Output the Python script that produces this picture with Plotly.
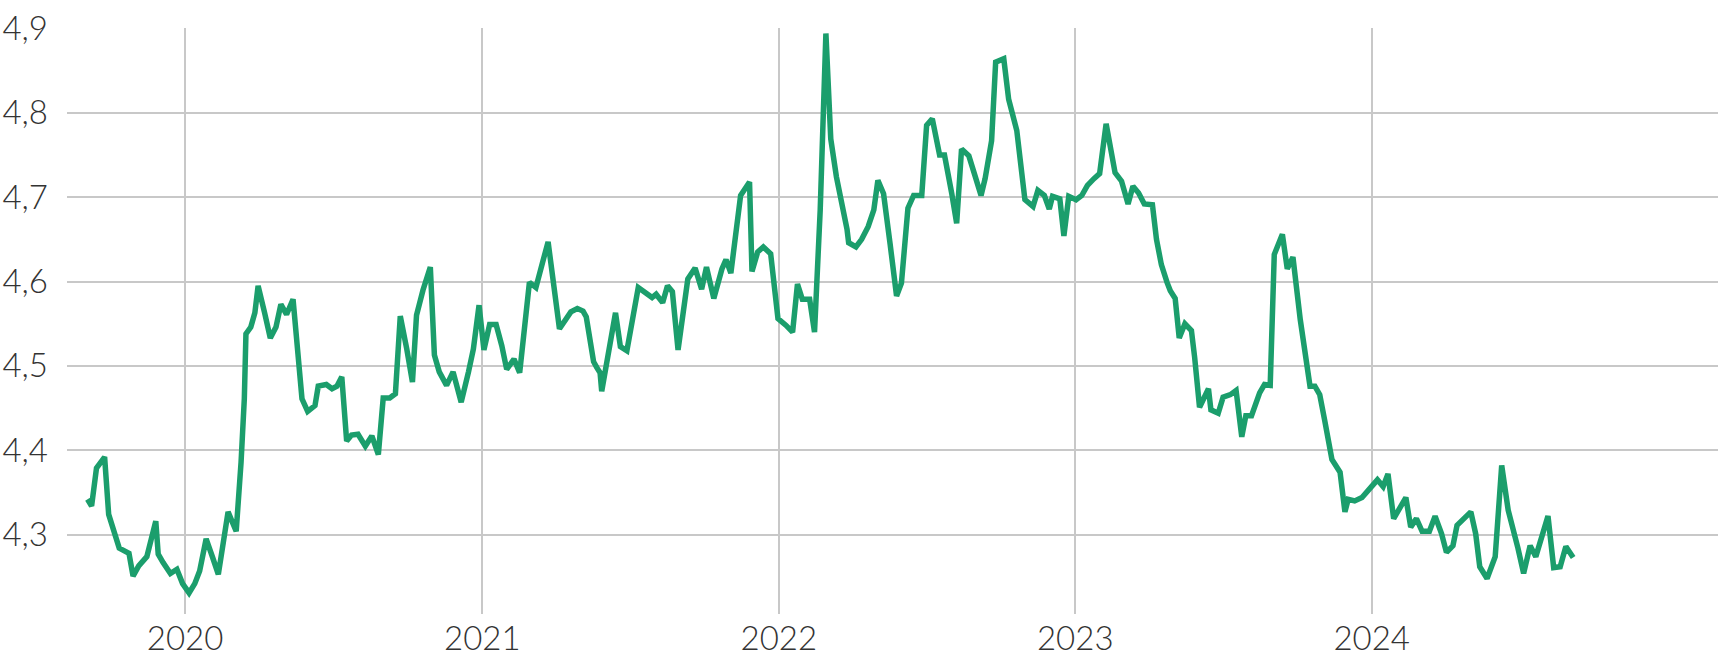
import plotly.graph_objects as go
import pandas as pd

# Observation dates, as days since 2020-01-01
day_offsets = [
    -120, -115, -109, -99, -94, -81, -69, -64, -57, -47, -36, -33, -27, -18, -10, -3,
    5, 12, 18, 26, 34, 41, 53, 63, 69, 73, 75, 81, 86, 90, 98, 105, 112, 118, 125, 133,
    144, 151, 160, 164, 174, 181, 187, 193, 199, 205, 213, 222, 230, 238, 244, 252, 259,
    265, 273, 280, 285, 293, 302, 307, 313, 322, 330, 340, 349, 355, 362, 368, 375, 383,
    390, 396, 405, 412, 424, 432, 440, 447,
    461, 468, 475, 483, 490, 494, 503, 507, 511, 513, 521, 530, 536, 544, 558, 568, 575,
    580, 588, 594, 600, 607, 619, 628, 636, 642, 651, 661, 666, 672, 684, 695, 698, 705,
    712, 721, 730, 740, 748, 754,
    760, 769, 775, 782, 789, 795, 802, 815, 817, 826, 833, 841, 848, 853, 860, 868, 876,
    882, 890, 897, 907, 913, 920, 929, 935, 944, 950, 956, 965, 973, 980, 985, 993, 998,
    1008, 1014, 1018, 1024, 1034, 1044, 1050, 1058,
    1064, 1068, 1077, 1082, 1088, 1097, 1104, 1111, 1119, 1126, 1134, 1145, 1153, 1161,
    1167, 1174, 1181, 1191, 1196, 1202, 1209, 1213, 1219, 1224, 1231, 1239, 1243, 1249,
    1260, 1263, 1272, 1278, 1287, 1294, 1301, 1306, 1313, 1317, 1323, 1329, 1336, 1341,
    1351, 1357, 1364,
    1373, 1385, 1391, 1397, 1403, 1412, 1422, 1428, 1432, 1440, 1449, 1459, 1468, 1475,
    1481, 1488, 1503, 1509, 1516, 1523, 1532, 1539, 1547, 1553, 1561, 1566, 1583, 1589,
    1594, 1603, 1613, 1621, 1629, 1641, 1648, 1656, 1663, 1678, 1685, 1693, 1700, 1709,
]

values = [
    4.342, 4.334, 4.379, 4.392, 4.324, 4.284, 4.278, 4.251, 4.263, 4.274, 4.316, 4.277, 4.267, 4.254, 4.259, 4.242,
    4.231, 4.242, 4.257, 4.295, 4.273, 4.253, 4.327, 4.304, 4.386, 4.461, 4.538, 4.546, 4.563, 4.595, 4.563, 4.533, 4.546, 4.573, 4.561, 4.579,
    4.461, 4.446, 4.453, 4.476, 4.478, 4.473, 4.476, 4.487, 4.411, 4.418, 4.419, 4.405, 4.417, 4.395, 4.462, 4.462, 4.467,
    4.559, 4.520, 4.481, 4.560, 4.590, 4.617, 4.513, 4.493, 4.477, 4.493, 4.457, 4.493, 4.520, 4.572, 4.519, 4.549, 4.549,
    4.524, 4.496, 4.508, 4.492, 4.599, 4.593, 4.622, 4.647,
    4.544, 4.555, 4.564, 4.568, 4.565, 4.558, 4.505, 4.498, 4.492, 4.470, 4.515, 4.563, 4.523, 4.518, 4.593, 4.585, 4.581,
    4.585, 4.575, 4.595, 4.588, 4.519, 4.603, 4.616, 4.591, 4.617, 4.580, 4.615, 4.626, 4.610, 4.702, 4.718, 4.612, 4.635,
    4.641, 4.633, 4.556, 4.548, 4.540, 4.597,
    4.579, 4.579, 4.540, 4.685, 4.894, 4.769, 4.724, 4.662, 4.646, 4.641, 4.650, 4.665, 4.685, 4.720, 4.704, 4.645, 4.583,
    4.598, 4.687, 4.702, 4.702, 4.785, 4.793, 4.750, 4.750, 4.704, 4.669, 4.757, 4.749, 4.724, 4.702, 4.722, 4.767, 4.860,
    4.864, 4.816, 4.799, 4.779, 4.697, 4.689, 4.708, 4.702,
    4.686, 4.701, 4.698, 4.654, 4.701, 4.697, 4.702, 4.714, 4.722, 4.728, 4.787, 4.729, 4.719, 4.692,
    4.713, 4.705, 4.692, 4.691, 4.650, 4.620, 4.599, 4.589, 4.580, 4.533, 4.550, 4.542, 4.510, 4.451,
    4.473, 4.448, 4.444, 4.463, 4.466, 4.471, 4.416, 4.441, 4.441, 4.452, 4.468, 4.478, 4.477, 4.632,
    4.656, 4.615, 4.629,
    4.555, 4.476, 4.476, 4.466, 4.436, 4.389, 4.374, 4.327, 4.342, 4.340, 4.344, 4.354, 4.365, 4.357,
    4.372, 4.319, 4.344, 4.309, 4.319, 4.304, 4.304, 4.322, 4.301, 4.279, 4.287, 4.311, 4.327, 4.301,
    4.262, 4.248, 4.274, 4.382, 4.329, 4.284, 4.254, 4.287, 4.274, 4.322, 4.261, 4.262, 4.286, 4.273,
]

x_tick_dates = ["2020-01-01", "2021-01-01", "2022-01-01", "2023-01-01", "2024-01-01"]
x_tick_labels = ["2020", "2021", "2022", "2023", "2024"]
y_tick_values = [4.3, 4.4, 4.5, 4.6, 4.7, 4.8, 4.9]
y_tick_labels = ["4,3", "4,4", "4,5", "4,6", "4,7", "4,8", "4,9"]

base = pd.Timestamp("2020-01-01")
dates = base + pd.to_timedelta(day_offsets, unit="D")

LINE_COLOR = "#1b9e6c"
GRID_COLOR = "#c8c8c8"
TEXT_COLOR = "#333333"
tick_font = dict(family="Lato, 'Open Sans', sans-serif", size=33, color=TEXT_COLOR, weight=300)

fig = go.Figure()
fig.add_trace(go.Scatter(
    x=dates, y=values, mode="lines",
    line=dict(color=LINE_COLOR, width=5.5),
    hoverinfo="skip",
))

fig.update_layout(
    width=1718, height=658,
    margin=dict(l=67, r=0, t=28, b=44),
    paper_bgcolor="white", plot_bgcolor="white",
    showlegend=False,
)
fig.update_xaxes(
    type="date", automargin=False,
    range=["2019-08-08 16:48", "2025-03-02 07:12"],
    tickvals=x_tick_dates, ticktext=x_tick_labels,
    showgrid=True, gridcolor=GRID_COLOR, gridwidth=2,
    showline=False, zeroline=False, ticks="",
    tickfont=tick_font, ticklabelstandoff=2,
)
fig.update_yaxes(
    automargin=False,
    range=[4.206, 4.9005],
    tickvals=y_tick_values, ticktext=y_tick_labels,
    showgrid=True, gridcolor=GRID_COLOR, gridwidth=2,
    showline=False, zeroline=False, ticks="",
    tickfont=tick_font, ticklabelstandoff=18,
    ticklabeloverflow="allow",
)

# Remove the browser's default page margin so the figure sits at the window's corner.
fig.write_html(
    "out.html",
    config={"displayModeBar": False},
    post_script="document.body.style.margin='0';document.body.style.overflow='hidden';",
)
